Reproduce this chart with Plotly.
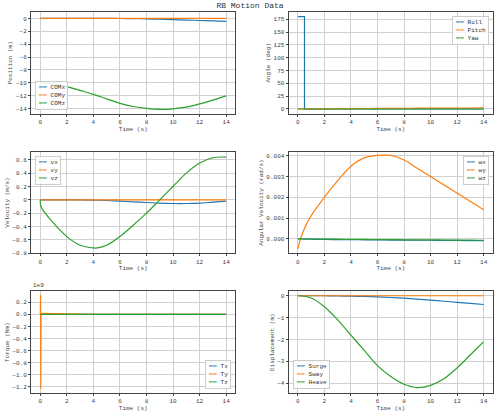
import plotly.graph_objects as go
from plotly.subplots import make_subplots

t = [0, 1, 2, 3, 4, 5, 6, 7, 8, 9, 10, 11, 12, 13, 14]

com_x = [0, 0, 0, 0, 0, 0, -0.01, -0.03, -0.07, -0.12, -0.18, -0.25, -0.32, -0.39, -0.45]
com_y = [0] * 15
com_z = [-10.0, -10.2, -10.6, -11.2, -11.8, -12.5, -13.2, -13.7, -14.0, -14.15, -14.05, -13.8, -13.3, -12.7, -12.05]

t_roll = [0, 0.5, 0.5, 14]
roll = [180, 180, 0, 0]
pitch = [0, 0.1, 0.3, 0.5, 0.7, 0.9, 1.0, 1.2, 1.3, 1.5, 1.6, 1.7, 1.8, 1.9, 2.0]
yaw = [0] * 15

vx = [0, 0, 0, 0, -0.005, -0.01, -0.02, -0.03, -0.04, -0.05, -0.055, -0.055, -0.05, -0.035, -0.02]
vy = [0] * 15
t_vz = [0, 0.05, 1, 2, 3, 4, 4.3, 5, 6, 7, 8, 9, 10, 11, 12, 13, 14]
vz = [0, -0.1, -0.35, -0.55, -0.68, -0.72, -0.72, -0.68, -0.55, -0.38, -0.2, 0, 0.2, 0.4, 0.55, 0.63, 0.64]

t_w = [0, 0.2, 0.8, 2, 3, 4, 5, 6, 7, 8, 9, 10, 11, 12, 13, 14]
wx = [0, -0.00001, -0.00002, -0.00003, -0.00004, -0.00004, -0.00005, -0.00005, -0.00006, -0.00006, -0.00007, -0.00007, -0.00008, -0.00008, -0.00009, -0.00009]
wy = [-0.0005, 0, 0.0009, 0.002, 0.0028, 0.0035, 0.0039, 0.00402, 0.00402, 0.0038, 0.0034, 0.003, 0.0026, 0.0022, 0.0018, 0.0014]
wz = [0, 0, -0.00001, -0.00002, -0.00002, -0.00003, -0.00003, -0.00004, -0.00004, -0.00005, -0.00005, -0.00005, -0.00006, -0.00006, -0.00006, -0.00007]

t_tq = [0, 0.02, 0.04, 0.06, 0.1, 2, 4, 14]
tx = [0, 0, 0, 0, 0, 0, 0, 0]
ty = [0, 0.32, -1.23, 0.02, 0.015, 0.01, 0.0, 0.0]
tz = [0, 0, 0, 0, 0, 0, 0, 0]

surge = [0, 0, 0, -0.01, -0.02, -0.03, -0.05, -0.08, -0.11, -0.15, -0.2, -0.25, -0.3, -0.35, -0.4]
sway = [0] * 15
heave = [0, -0.1, -0.5, -1.1, -1.8, -2.5, -3.2, -3.7, -4.05, -4.2, -4.1, -3.8, -3.3, -2.7, -2.1]

C = ["#1f77b4", "#ff7f0e", "#2ca02c"]
FONT = "Liberation Mono"

fig = make_subplots(rows=3, cols=2, horizontal_spacing=0.115, vertical_spacing=0.1)

panels = [
    (1, 1, [(t, com_x, "COMx"), (t, com_y, "COMy"), (t, com_z, "COMz")], "Position (m)", "bl"),
    (1, 2, [(t_roll, roll, "Roll"), (t, pitch, "Pitch"), (t, yaw, "Yaw")], "Angle (deg)", "tr"),
    (2, 1, [(t, vx, "vx"), (t, vy, "vy"), (t_vz, vz, "vz")], "Velocity (m/s)", "tl"),
    (2, 2, [(t_w, wx, "wx"), (t_w, wy, "wy"), (t_w, wz, "wz")], "Angular Velocity (rad/s)", "tr"),
    (3, 1, [(t_tq, tx, "Tx"), (t_tq, ty, "Ty"), (t_tq, tz, "Tz")], "Torque (Nm)", "br"),
    (3, 2, [(t, surge, "Surge"), (t, sway, "Sway"), (t, heave, "Heave")], "Displacement (m)", "bl"),
]

for k, (row, col, series, ytitle, pos) in enumerate(panels):
    for i, (x, y, name) in enumerate(series):
        shape = "spline" if len(x) > 10 else "linear"
        fig.add_trace(go.Scatter(x=x, y=y, mode="lines", name=name, showlegend=False,
                                 line=dict(color=C[i], width=1.2, shape=shape)), row=row, col=col)
    fig.update_yaxes(title_text=ytitle, row=row, col=col)
    fig.update_xaxes(title_text="Time (s)", row=row, col=col)
    # legend box drawn as annotation
    txt = "<br>".join(f"<span style='color:{C[i]}'>━━</span> {s[2]}" for i, s in enumerate(series))
    ax = "" if k == 0 else str(k + 1)
    xr = 0.02 if pos[1] == "l" else 0.98
    yr = 0.04 if pos[0] == "b" else 0.96
    fig.add_annotation(text=txt, xref=f"x{ax} domain", yref=f"y{ax} domain", x=xr, y=yr,
                       xanchor="left" if pos[1] == "l" else "right",
                       yanchor="bottom" if pos[0] == "b" else "top",
                       showarrow=False, align="left", bgcolor="rgba(255,255,255,0.85)",
                       bordercolor="#ccc", borderwidth=1, borderpad=2,
                       font=dict(size=6, family=FONT, color="#333"))

fig.update_xaxes(range=[-0.7, 14.7], dtick=2, showgrid=True, gridcolor="#d0d0d0",
                 showline=True, linecolor="#444", mirror=True, ticks="outside", ticklen=2,
                 zeroline=False, title_standoff=1, title_font_size=6)
fig.update_yaxes(showgrid=True, gridcolor="#d0d0d0", showline=True, linecolor="#444",
                 mirror=True, ticks="outside", ticklen=2, zeroline=False, title_standoff=2,
                 title_font_size=6)
fig.update_yaxes(range=[-14.8, 1.0], dtick=2, row=1, col=1)
fig.update_yaxes(range=[-9, 189], dtick=25, row=1, col=2)
fig.update_yaxes(range=[-0.8, 0.72], dtick=0.2, row=2, col=1)
fig.update_yaxes(range=[-0.0007, 0.0042], dtick=0.001, tickformat=".3f", row=2, col=2)
fig.update_yaxes(range=[-1.3, 0.38], dtick=0.2, tickformat=".1f", row=3, col=1)
fig.update_yaxes(range=[-4.45, 0.2], dtick=1, row=3, col=2)

fig.add_annotation(text="1e9", xref="x5 domain", yref="y5 domain", x=0, y=1.0,
                   xanchor="left", yanchor="bottom", showarrow=False,
                   font=dict(size=6, family=FONT, color="#444"))

fig.update_layout(
    width=500, height=416,
    title=dict(text="RB Motion Data", x=0.5, y=0.995, yanchor="top",
               font=dict(size=8, family=FONT, color="#333")),
    font=dict(family=FONT, size=6, color="#444"),
    plot_bgcolor="white", paper_bgcolor="white",
    margin=dict(l=30, r=6, t=12, b=22),
)

fig.write_html("out.html", config={"displayModeBar": False},
               post_script="document.body.style.margin='0';")
